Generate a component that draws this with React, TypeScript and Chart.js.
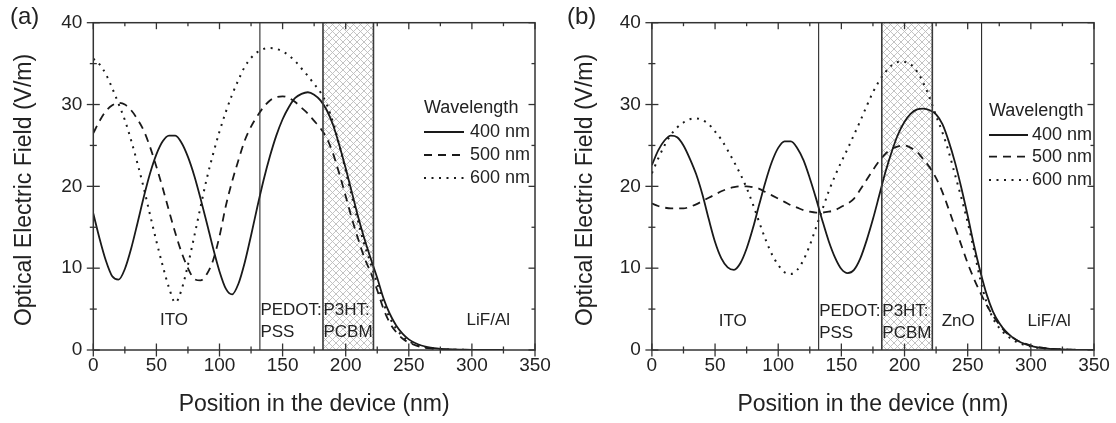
import React, { useEffect, useRef } from "react";
import { Chart, registerables } from "chart.js";

Chart.register(...registerables);

const FONT = '"Liberation Sans", Arial, Helvetica, sans-serif';
const INK = "#1a1a1a";
const TEXT = "#222222";
const FRAME = "#333333";

// ---------------- data ----------------
const wavelengths = ["400 nm", "500 nm", "600 nm"];
const legendTitle = "Wavelength";
const xTitle = "Position in the device (nm)";
const yTitle = "Optical Electric Field (V/m)";

const positionA = [
  0, 5, 10, 15, 20, 25, 30, 35, 40, 45, 50, 55, 60, 65, 70, 75, 80, 85, 90, 95,
  100, 105, 110, 115, 120, 125, 130, 135, 140, 145, 150, 155, 160, 165, 170, 175,
  180, 185, 190, 195, 200, 205, 210, 215, 220, 225, 230, 235, 240, 245, 250, 255,
  260, 265, 270, 275, 280, 285, 290, 295, 300, 305, 310, 315, 320, 325,
];
const fieldA400 = [
  16.7, 13.6, 10.9, 9.0, 8.6, 9.9, 12.4, 15.5, 18.7, 21.6, 23.9, 25.5, 26.2, 26.2, 25.3, 23.6, 21.3, 18.5, 15.5, 12.4,
  9.6, 7.5, 6.8, 8.1, 10.7, 14.0, 17.5, 20.8, 23.7, 26.2, 28.2, 29.7, 30.8, 31.3, 31.5, 31.2,
  30.5, 29.3, 27.5, 25.0, 22.2, 19.2, 16.2, 13.5, 11.1, 8.8, 6.3, 4.4, 3.0, 2.0, 1.3, 0.85,
  0.55, 0.35, 0.22, 0.14, 0.09, 0.06, 0.04, 0.03, 0.02, 0.01, 0.01, 0, 0, 0,
];
const fieldA500 = [
  26.5, 28.0, 29.2, 29.9, 30.2, 30.0, 29.3, 28.2, 26.8, 24.8, 22.4, 19.8, 17.0, 14.3, 11.9, 10.0, 8.7, 8.5, 9.3, 11.0,
  13.9, 17.6, 20.6, 23.2, 25.6, 27.3, 28.6, 29.7, 30.5, 30.9, 31.0, 30.8, 30.3, 29.6, 28.9, 28.0,
  27.1, 25.9, 24.0, 21.5, 18.8, 16.0, 13.5, 11.2, 9.4, 7.3, 5.0, 3.3, 2.2, 1.4, 0.9, 0.6,
  0.35, 0.22, 0.14, 0.09, 0.05, 0.03, 0.02, 0.01, 0.01, 0, 0, 0, 0, 0,
];
const fieldA600 = [
  35.6, 34.9, 33.7, 32.0, 30.1, 28.1, 25.6, 22.8, 19.8, 16.5, 13.3, 10.3, 7.6, 5.8, 7.4, 10.4, 13.9, 17.5, 21.0, 24.0,
  26.7, 29.1, 31.2, 33.0, 34.6, 35.7, 36.4, 36.8, 36.9, 36.8, 36.5, 36.0, 35.3, 34.4, 33.5, 32.5,
  31.5, 30.0, 27.8, 25.0, 21.9, 18.7, 15.6, 12.8, 10.5, 8.1, 5.7, 3.9, 2.6, 1.7, 1.1, 0.7,
  0.45, 0.28, 0.18, 0.11, 0.07, 0.04, 0.03, 0.02, 0.01, 0, 0, 0, 0, 0,
];

const positionB = [
  0, 5, 10, 15, 20, 25, 30, 35, 40, 45, 50, 55, 60, 65, 70, 75, 80, 85, 90, 95,
  100, 105, 110, 115, 120, 125, 130, 135, 140, 145, 150, 155, 160, 165, 170, 175,
  180, 185, 190, 195, 200, 205, 210, 215, 220, 225, 230, 235, 240, 245, 250, 255,
  260, 265, 270, 275, 280, 285, 290, 295, 300, 305, 310, 315, 320, 325, 330, 335,
  340, 345, 350,
];
const fieldB400 = [
  22.6, 24.4, 25.6, 26.2, 26.0, 25.0, 23.4, 21.5, 19.0, 16.0, 13.2, 11.2, 10.1, 9.8, 10.6, 12.4, 14.9, 17.8, 20.6, 23.0,
  24.7, 25.5, 25.5, 24.7, 23.2, 21.0, 18.5, 15.8, 13.3, 11.3, 9.9, 9.4, 9.8, 11.2, 13.4, 16.0,
  18.9, 21.8, 24.3, 26.4, 27.9, 28.9, 29.4, 29.5, 29.3, 28.8, 27.6, 25.5, 22.9, 19.8, 16.4, 12.8,
  9.6, 6.8, 4.7, 3.3, 2.3, 1.6, 1.1, 0.75, 0.5, 0.33, 0.22, 0.14, 0.09, 0.06, 0.04, 0.02,
  0.01, 0.01, 0,
];
const fieldB500 = [
  17.9, 17.6, 17.4, 17.3, 17.3, 17.3, 17.5, 17.8, 18.2, 18.6, 19.0, 19.4, 19.7, 19.9, 20.0, 20.0, 19.9, 19.7, 19.3, 18.9,
  18.5, 18.1, 17.7, 17.4, 17.1, 16.9, 16.8, 16.8, 16.9, 17.1, 17.5, 17.9, 18.5, 19.6, 20.8, 22.0,
  23.1, 24.0, 24.6, 24.9, 25.0, 24.7, 24.2, 23.3, 22.3, 21.0, 19.3, 17.2, 15.0, 12.8, 10.6, 8.7,
  7.0, 5.5, 4.2, 3.1, 2.2, 1.6, 1.1, 0.8, 0.55, 0.37, 0.25, 0.16, 0.1, 0.06, 0.04, 0.02,
  0.01, 0.01, 0,
];
const fieldB600 = [
  21.6, 23.4, 25.0, 26.3, 27.2, 27.8, 28.2, 28.3, 28.1, 27.6, 26.7, 25.7, 24.4, 23.0, 21.5, 19.8, 17.8, 15.6, 13.5, 11.7,
  10.4, 9.5, 9.3, 9.8, 11.0, 12.8, 15.0, 17.2, 19.4, 21.3, 23.0, 24.6, 26.3, 28.0, 29.8, 31.5,
  32.9, 34.0, 34.8, 35.2, 35.2, 34.9, 34.0, 32.6, 30.8, 28.6, 26.6, 24.2, 21.4, 18.6, 15.6, 12.2,
  8.6, 5.8, 3.9, 2.7, 1.9, 1.3, 0.9, 0.6, 0.42, 0.28, 0.18, 0.12, 0.08, 0.05, 0.03, 0.02,
  0.01, 0.01, 0,
];

// layer boundaries (nm) and the hatched active layer
const boundariesA = [132, 182, 222];
const boundariesB = [132, 182, 222, 261];
const activeLayer = [182, 222];
const layerNamesA = [["ITO"], ["PEDOT:", "PSS"], ["P3HT:", "PCBM"], ["LiF/Al"]];
const layerNamesB = [["ITO"], ["PEDOT:", "PSS"], ["P3HT:", "PCBM"], ["ZnO"], ["LiF/Al"]];

// ---------------- layout / style ----------------
const seriesDash = [[], [8, 6], [2, 5.5]];
const seriesWidth = [1.8, 1.8, 2];

type LabelPlace = { x: number; align: CanvasTextAlign };

type PanelSpec = {
  key: string;
  left: number;
  yAxisWidth: number;
  padRight: number;
  tag: string;
  tagX: number;
  yTitleX: number;
  positions: number[];
  series: number[][];
  boundaries: number[];
  names: string[][];
  places: LabelPlace[];
  singleY: number;
  doubleY: [number, number];
  legendX: number;
  legendRows: number[];
  legendLine: number;
  legendTextX: number;
};

const panelA: PanelSpec = {
  key: "a",
  left: 0,
  yAxisWidth: 93.3,
  padRight: 23,
  tag: "(a)",
  tagX: 10,
  yTitleX: 25,
  positions: positionA,
  series: [fieldA400, fieldA500, fieldA600],
  boundaries: boundariesA,
  names: layerNamesA,
  places: [
    { x: 64, align: "center" },
    { x: 132, align: "left" },
    { x: 182, align: "left" },
    { x: 313, align: "center" },
  ],
  singleY: 320,
  doubleY: [310, 332],
  legendX: 424,
  legendRows: [108, 132, 155, 178],
  legendLine: 40,
  legendTextX: 470,
};

const panelB: PanelSpec = {
  key: "b",
  left: 558,
  yAxisWidth: 93.9,
  padRight: 22,
  tag: "(b)",
  tagX: 9,
  yTitleX: 27.5,
  positions: positionB,
  series: [fieldB400, fieldB500, fieldB600],
  boundaries: boundariesB,
  names: layerNamesB,
  places: [
    { x: 64, align: "center" },
    { x: 132, align: "left" },
    { x: 182, align: "left" },
    { x: 242.5, align: "center" },
    { x: 314.5, align: "center" },
  ],
  singleY: 321.5,
  doubleY: [311.5, 333],
  legendX: 431,
  legendRows: [111.5, 135, 156.7, 180],
  legendLine: 39,
  legendTextX: 474,
};

function makeHatch(ctx: CanvasRenderingContext2D): CanvasPattern | string {
  const c = document.createElement("canvas");
  const s = 7;
  c.width = s;
  c.height = s;
  const g = c.getContext("2d");
  if (!g) return "#ddd";
  g.fillStyle = "#ffffff";
  g.fillRect(0, 0, s, s);
  g.strokeStyle = "#bcbcbc";
  g.lineWidth = 0.9;
  g.beginPath();
  g.moveTo(-1, -1);
  g.lineTo(s + 1, s + 1);
  g.moveTo(s + 1, -1);
  g.lineTo(-1, s + 1);
  g.stroke();
  return ctx.createPattern(c, "repeat") || "#ddd";
}

function decorPlugin(p: PanelSpec) {
  return {
    id: "decor_" + p.key,
    beforeDatasetsDraw(chart: any) {
      const { ctx, chartArea: ca, scales } = chart;
      const x = scales.x;
      const x0 = x.getPixelForValue(activeLayer[0]);
      const x1 = x.getPixelForValue(activeLayer[1]);
      ctx.save();
      ctx.fillStyle = makeHatch(ctx);
      ctx.fillRect(x0, ca.top, x1 - x0, ca.bottom - ca.top);
      ctx.restore();
    },
    afterDatasetsDraw(chart: any) {
      const { ctx, chartArea: ca, scales } = chart;
      const x = scales.x;
      const y = scales.y;
      const line = (a: number, b: number, c: number, d: number) => {
        ctx.beginPath();
        ctx.moveTo(a, b);
        ctx.lineTo(c, d);
        ctx.stroke();
      };
      ctx.save();
      // layer boundaries
      p.boundaries.forEach((b) => {
        const px = x.getPixelForValue(b);
        const isActive = b === activeLayer[0] || b === activeLayer[1];
        ctx.strokeStyle = isActive ? "#3a3a3a" : "#2a2a2a";
        ctx.lineWidth = isActive ? 1.6 : 1.1;
        line(px, ca.top, px, ca.bottom);
      });
      // frame
      ctx.strokeStyle = FRAME;
      ctx.lineWidth = 1.5;
      ctx.strokeRect(ca.left, ca.top, ca.right - ca.left, ca.bottom - ca.top);
      // ticks
      ctx.lineWidth = 1.3;
      const xMinor = 25;
      for (let v = 0; v <= 350; v += xMinor) {
        const px = x.getPixelForValue(v);
        const L = v % 50 === 0 ? 6.5 : 3.5;
        line(px, ca.bottom - L, px, ca.bottom + L);
        line(px, ca.top, px, ca.top + L);
      }
      const yMinor = 5;
      for (let v = 0; v <= 40; v += yMinor) {
        const py = y.getPixelForValue(v);
        const L = v % 10 === 0 ? 6.5 : 3.5;
        line(ca.left - L, py, ca.left + L, py);
        line(ca.right - L, py, ca.right, py);
      }
      // layer labels
      ctx.fillStyle = TEXT;
      ctx.font = `17px ${FONT}`;
      ctx.textBaseline = "middle";
      p.names.forEach((lines, i) => {
        const place = p.places[i];
        ctx.textAlign = place.align;
        const px = x.getPixelForValue(place.x) + (place.align === "left" ? 0.5 : 0);
        if (lines.length === 1) {
          ctx.fillText(lines[0], px, p.singleY);
        } else {
          ctx.fillText(lines[0], px, p.doubleY[0]);
          ctx.fillText(lines[1], px, p.doubleY[1]);
        }
      });
      // legend
      ctx.font = `18px ${FONT}`;
      ctx.textAlign = "left";
      ctx.fillText(legendTitle, p.legendX, p.legendRows[0]);
      wavelengths.forEach((w, i) => {
        const ry = p.legendRows[i + 1];
        ctx.strokeStyle = INK;
        ctx.lineWidth = seriesWidth[i];
        ctx.setLineDash(seriesDash[i]);
        line(p.legendX, ry, p.legendX + p.legendLine, ry);
        ctx.setLineDash([]);
        ctx.fillText(w, p.legendTextX, ry);
      });
      // axis titles
      ctx.font = `23px ${FONT}`;
      ctx.textAlign = "center";
      ctx.fillText(xTitle, (ca.left + ca.right) / 2, 405);
      ctx.save();
      ctx.translate(p.yTitleX, 190);
      ctx.rotate(-Math.PI / 2);
      ctx.fillText(yTitle, 0, 0);
      ctx.restore();
      // panel tag
      ctx.font = `24px ${FONT}`;
      ctx.textAlign = "left";
      ctx.fillText(p.tag, p.tagX, 17);
      ctx.restore();
    },
  };
}

function buildConfig(p: PanelSpec): any {
  return {
    type: "line",
    data: {
      datasets: p.series.map((vals, i) => ({
        label: wavelengths[i],
        data: p.positions.map((pos, j) => ({ x: pos, y: vals[j] })),
        borderColor: INK,
        borderWidth: seriesWidth[i],
        borderDash: seriesDash[i],
        pointRadius: 0,
        fill: false,
        cubicInterpolationMode: "monotone",
      })),
    },
    options: {
      animation: false,
      responsive: false,
      devicePixelRatio: 1,
      layout: { padding: { left: 0, right: p.padRight, top: 22.7, bottom: 0 } },
      plugins: { legend: { display: false }, tooltip: { enabled: false }, title: { display: false } },
      scales: {
        x: {
          type: "linear",
          min: 0,
          max: 350,
          afterFit: (s: any) => {
            s.height = 73;
          },
          grid: { display: false, drawTicks: false },
          border: { display: false },
          ticks: {
            stepSize: 50,
            autoSkip: false,
            maxRotation: 0,
            padding: 4,
            color: TEXT,
            font: { family: FONT, size: 19 },
          },
        },
        y: {
          type: "linear",
          min: 0,
          max: 40,
          afterFit: (s: any) => {
            s.width = p.yAxisWidth;
          },
          grid: { display: false, drawTicks: false },
          border: { display: false },
          ticks: {
            stepSize: 10,
            padding: 11,
            color: TEXT,
            font: { family: FONT, size: 19 },
          },
        },
      },
    },
    plugins: [decorPlugin(p)],
  };
}

function Panel({ spec }: { spec: PanelSpec }) {
  const ref = useRef<HTMLCanvasElement>(null);
  useEffect(() => {
    if (!ref.current) return;
    const chart = new Chart(ref.current, buildConfig(spec));
    return () => chart.destroy();
  }, [spec]);
  return (
    <canvas
      ref={ref}
      width={558}
      height={423}
      style={{ position: "absolute", left: spec.left, top: 0, width: 558, height: 423 }}
    />
  );
}

export default function App() {
  return (
    <div
      style={{
        position: "absolute",
        left: 0,
        top: 0,
        width: 1116,
        height: 423,
        background: "#ffffff",
        overflow: "hidden",
      }}
    >
      <Panel spec={panelA} />
      <Panel spec={panelB} />
    </div>
  );
}
